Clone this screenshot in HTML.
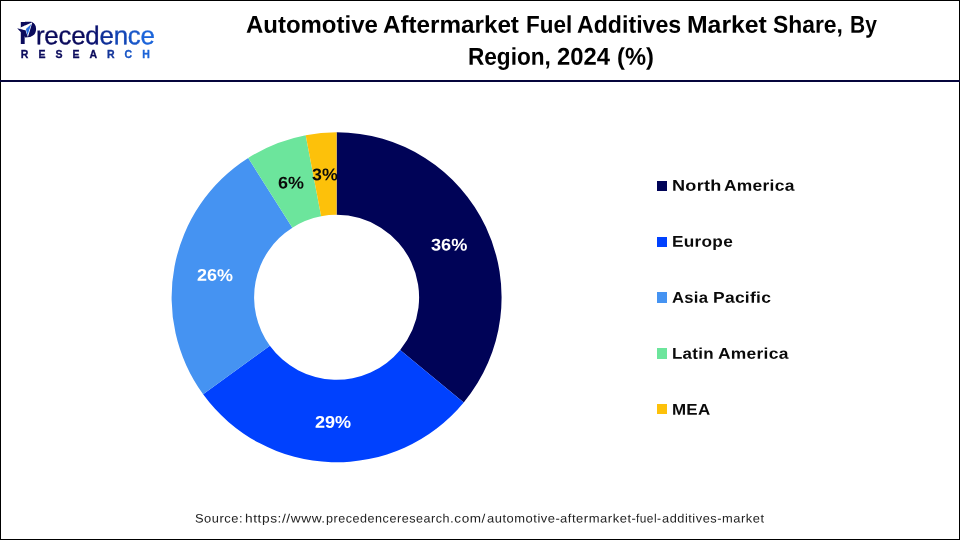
<!DOCTYPE html>
<html lang="en">
<head>
<meta charset="utf-8">
<title>Automotive Aftermarket Fuel Additives Market Share, By Region, 2024 (%)</title>
<style>
html,body{margin:0;padding:0;background:#fff;}
body{width:960px;height:540px;position:relative;overflow:hidden;font-family:"Liberation Sans",sans-serif;}
#frame{position:absolute;left:0;top:0;width:958px;height:538px;border:1px solid #000;}
#rule{position:absolute;left:0;top:80px;width:960px;height:2px;background:#05053c;}
.t{position:absolute;left:0;width:960px;height:32px;font-weight:bold;font-size:24.3px;line-height:32px;color:#000;white-space:nowrap;}
.t span,.leg span,#src span,.lbl span{position:absolute;top:0;display:block;transform-origin:0 0;}
#logoP{position:absolute;left:19px;top:16px;font-size:30.7px;line-height:36px;font-weight:bold;color:#0b0b5c;transform-origin:0 0;transform:scaleX(0.88);}
#logo1{position:absolute;left:36px;top:17px;font-size:25.8px;line-height:36px;letter-spacing:-0.2px;color:#0b0b5c;-webkit-text-stroke:0.35px currentColor;white-space:nowrap;transform-origin:0 0;transform:translateY(.25px) rotate(.05deg);}
#logo1 span{-webkit-text-stroke:0.35px currentColor;}
#logo2{position:absolute;left:20.8px;top:46.8px;font-size:10.5px;line-height:14px;font-weight:bold;letter-spacing:10px;white-space:nowrap;color:#0b0b5c;-webkit-text-stroke:0.3px currentColor;}
svg{position:absolute;left:0;top:0;}
.lbl{position:absolute;left:0;width:960px;height:20px;font-weight:bold;font-size:17px;line-height:20px;white-space:nowrap;}
.w{color:#fff}.k{color:#0a0a0a}
.sq{position:absolute;left:657px;width:10px;height:10.4px;}
.leg{position:absolute;left:0;width:960px;height:20px;white-space:nowrap;font-weight:bold;font-size:15.55px;line-height:20px;color:#0a0a0a;letter-spacing:0.25px;}
#src{position:absolute;left:0;top:510.57px;width:960px;height:16px;font-size:12.2px;line-height:16px;color:#222;white-space:nowrap;letter-spacing:0.5px;}
</style>
</head>
<body>
<div id="frame"></div>
<div id="rule"></div>
<div id="logoP">P</div>
<div id="logo1">rece<span style="color:#0b1370">d</span><span style="color:#0f3098">e</span><span style="color:#1346b6">n</span><span style="color:#1856c8">c</span><span style="color:#1b64da">e</span></div>
<div id="logo2">RESEA<span style="color:#14359a">R</span><span style="color:#1956c6">C</span><span style="color:#1c64d8">H</span></div>
<div class="t" style="top:8.98px"><span style="left:245.76px;transform:translateY(-0.3px) scaleX(0.9864) rotate(.05deg)">Automotive</span> <span style="left:382.75px;transform:translateY(-0.3px) scaleX(0.9967) rotate(.05deg)">Aftermarket</span> <span style="left:525.61px;transform:translateY(-0.3px) scaleX(0.9241) rotate(.05deg)">Fuel</span> <span style="left:577.03px;transform:translateY(-0.3px) scaleX(0.9535) rotate(.05deg)">Additives</span> <span style="left:686.97px;transform:translateY(-0.3px) scaleX(1.0196) rotate(.05deg)">Market</span> <span style="left:773.29px;transform:translateY(-0.3px) scaleX(0.9408) rotate(.05deg)">Share,</span> <span style="left:849.71px;transform:translateY(-0.3px) scaleX(0.8632) rotate(.05deg)">By</span></div>
<div class="t" style="top:41.13px"><span style="left:468.35px;transform:translateY(-0.2px) scaleX(0.9302) rotate(.05deg)">Region,</span> <span style="left:557.37px;transform:translateY(-0.2px) scaleX(0.9793) rotate(.05deg)">2024</span> <span style="left:616.88px;transform:translateY(-0.2px) scaleX(0.9759) rotate(.05deg)">(%)</span></div>
<svg width="960" height="540" viewBox="0 0 960 540">
<path d="M336.60 132.30A165 165 0 0 1 463.73 402.47L400.17 349.89A82.5 82.5 0 0 0 336.60 214.80Z" fill="#000357"/>
<path d="M463.73 402.47A165 165 0 0 1 203.11 394.28L269.86 345.79A82.5 82.5 0 0 0 400.17 349.89Z" fill="#0041fe"/>
<path d="M203.11 394.28A165 165 0 0 1 248.19 157.99L292.39 227.64A82.5 82.5 0 0 0 269.86 345.79Z" fill="#4593f2"/>
<path d="M248.19 157.99A165 165 0 0 1 305.68 135.22L321.14 216.26A82.5 82.5 0 0 0 292.39 227.64Z" fill="#6ce59c"/>
<path d="M305.68 135.22A165 165 0 0 1 336.60 132.30L336.60 214.80A82.5 82.5 0 0 0 321.14 216.26Z" fill="#fdc10a"/>
<path d="M25 21.8L31 21.8C36.5 23 37.5 33.5 30 36.9L25 37.6Z" fill="#0b0b5c"/>
<path d="M20.5 27.6L32.4 22.2L27.9 37.1L25.4 30.6L20.5 29.4Z" fill="#fff"/>
<path d="M17.2 28.3L25.7 30.4L25.4 33.5L21.1 32.2Q19 30.6 17.2 28.3Z" fill="#0b0b5c"/>
<path d="M31.3 23.9L25.9 29.1L27.4 35.6Z" fill="#2a6fe0"/>
</svg>
<div class="lbl w" style="top:235px"><span style="left:430.97px;transform:translateY(0.56px) scaleX(1.0667) rotate(.05deg)">36%</span></div>
<div class="lbl w" style="top:412px"><span style="left:314.97px;transform:translateY(0.76px) scaleX(1.0606) rotate(.05deg)">29%</span></div>
<div class="lbl w" style="top:265px"><span style="left:197.17px;transform:translateY(0.86px) scaleX(1.0545) rotate(.05deg)">26%</span></div>
<div class="lbl k" style="top:173px"><span style="left:277.96px;transform:translateY(0.41px) scaleX(1.0559) rotate(.05deg)">6%</span></div>
<div class="lbl k" style="top:165px"><span style="left:312.18px;transform:translateY(0.36px) scaleX(1.0468) rotate(.05deg)">3%</span></div>
<div class="sq" style="top:180.8px;background:#000357"></div>
<div class="sq" style="top:236.6px;background:#0041fe"></div>
<div class="sq" style="top:292.4px;background:#4593f2"></div>
<div class="sq" style="top:348.2px;background:#6ce59c"></div>
<div class="sq" style="top:404.0px;background:#fdc10a"></div>
<div class="leg" style="top:176.01px"><span style="left:671.84px;transform:translateY(-0.28px) scaleX(1.163) rotate(.05deg)">North</span> <span style="left:723.94px;transform:translateY(-0.28px) scaleX(1.12) rotate(.05deg)">America</span></div>
<div class="leg" style="top:232.01px"><span style="left:671.89px;transform:translateY(-0.28px) scaleX(1.108) rotate(.05deg)">Europe</span></div>
<div class="leg" style="top:288.01px"><span style="left:671.76px;transform:translateY(-0.28px) scaleX(1.0737) rotate(.05deg)">Asia</span> <span style="left:712.78px;transform:translateY(-0.28px) scaleX(1.122) rotate(.05deg)">Pacific</span></div>
<div class="leg" style="top:344.01px"><span style="left:672.21px;transform:translateY(-0.28px) scaleX(1.0897) rotate(.05deg)">Latin</span> <span style="left:718.14px;transform:translateY(-0.28px) scaleX(1.12) rotate(.05deg)">America</span></div>
<div class="leg" style="top:400.01px"><span style="left:671.91px;transform:translateY(-0.28px) scaleX(1.0896) rotate(.05deg)">MEA</span></div>
<div id="src"><span style="left:194.72px;transform:translateY(-0.6px) scaleX(1.0575) rotate(.05deg)">Source:</span> <span style="left:245.16px;transform:translateY(-0.6px) scaleX(1.1264) rotate(.05deg)">https://www.</span><span style="left:326.13px;transform:translateY(-0.6px) scaleX(1.0326) rotate(.05deg)">precedenceresearch</span><span style="left:450.14px;transform:translateY(-0.6px) scaleX(1.1106) rotate(.05deg)">.com/</span><span style="left:486.57px;transform:translateY(-0.6px) scaleX(1.0613) rotate(.05deg)">automotive-</span><span style="left:559.57px;transform:translateY(-0.6px) scaleX(1.0662) rotate(.05deg)">aftermarket-</span><span style="left:636.01px;transform:translateY(-0.6px) scaleX(0.974) rotate(.05deg)">fuel-</span><span style="left:662.48px;transform:translateY(-0.6px) scaleX(1.0495) rotate(.05deg)">additives-</span><span style="left:721.96px;transform:translateY(-0.6px) scaleX(1.0577) rotate(.05deg)">market</span></div>
</body>
</html>
